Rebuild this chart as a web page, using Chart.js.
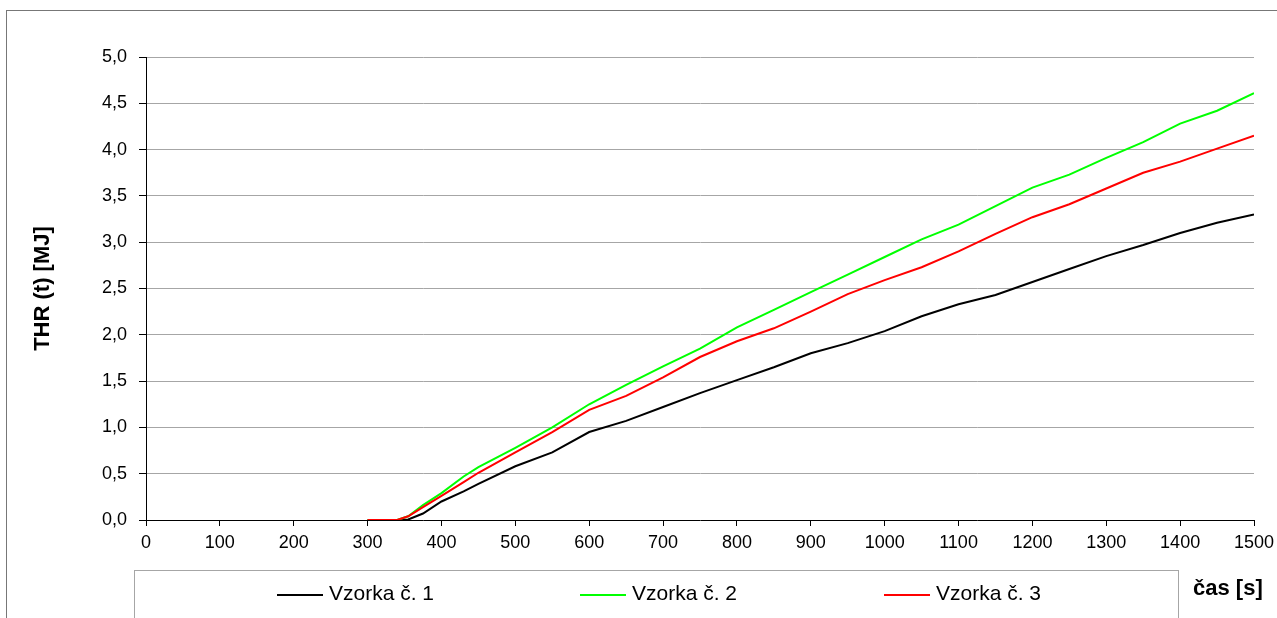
<!DOCTYPE html>
<html>
<head>
<meta charset="utf-8">
<script src="https://cdn.jsdelivr.net/npm/chart.js@4"></script>
<style>
  body { margin: 0; background: #fff; }
  #wrap { width: 1277px; height: 618px; position: relative; }
</style>
</head>
<body>
<div id="wrap"><canvas id="thrChart"></canvas></div>
<script>
// čas [s]
const times = [300, 340, 355, 375, 400, 430, 450, 500, 550, 600, 650, 700, 750, 800,
  850, 900, 950, 1000, 1050, 1100, 1150, 1200, 1250, 1300, 1350, 1400, 1450, 1500];

// THR (t) [MJ]
const vzorka1 = [0, 0, 0.005, 0.07, 0.20, 0.31, 0.39, 0.58, 0.73, 0.95, 1.07, 1.22, 1.37, 1.51,
  1.65, 1.80, 1.91, 2.04, 2.20, 2.33, 2.43, 2.57, 2.71, 2.85, 2.97, 3.10, 3.21, 3.30];
const vzorka2 = [0, 0, 0.04, 0.16, 0.29, 0.47, 0.57, 0.78, 1.00, 1.25, 1.46, 1.66, 1.85, 2.08,
  2.27, 2.46, 2.65, 2.84, 3.03, 3.19, 3.39, 3.59, 3.73, 3.91, 4.08, 4.28, 4.42, 4.61];
const vzorka3 = [0, 0, 0.04, 0.14, 0.26, 0.41, 0.51, 0.73, 0.95, 1.19, 1.34, 1.54, 1.76, 1.93,
  2.07, 2.25, 2.44, 2.59, 2.73, 2.90, 3.09, 3.27, 3.41, 3.58, 3.75, 3.87, 4.01, 4.15];

const seriesNames = ["Vzorka č. 1", "Vzorka č. 2", "Vzorka č. 3"];
const seriesColors = ["#000000", "#00ff00", "#ff0000"];
const xTitle = "čas [s]";
const yTitle = "THR (t) [MJ]";

const FONT = "'Liberation Sans', Arial, sans-serif";

const toPoints = (vals) => times.map((t, i) => ({ x: t, y: vals[i] }));

// frame, legend box and x title like the Excel original
const framePlugin = {
  id: "frame",
  afterDraw(chart) {
    const c = chart.ctx;
    c.save();
    c.lineWidth = 1;
    c.strokeStyle = "#777";
    c.strokeRect(6.5, 10.5, 1300, 700);

    c.strokeStyle = "#a6a6a6";
    c.strokeRect(134.5, 570.5, 1044, 100);

    const startX = [277, 580, 884];
    chart.data.datasets.forEach((ds, i) => {
      c.strokeStyle = ds.borderColor;
      c.lineWidth = 2;
      c.beginPath();
      c.moveTo(startX[i], 595);
      c.lineTo(startX[i] + 46, 595);
      c.stroke();
      c.fillStyle = "#000";
      c.font = "21px " + FONT;
      c.textBaseline = "middle";
      c.fillText(ds.label, startX[i] + 52, 594);
    });

    c.font = "bold 22px " + FONT;
    c.fillStyle = "#000";
    c.textBaseline = "middle";
    c.fillText(xTitle, 1193, 589);
    c.restore();
  }
};

const ctx = document.getElementById("thrChart").getContext("2d");
new Chart(ctx, {
  type: "line",
  data: {
    datasets: [
      { label: seriesNames[0], data: toPoints(vzorka1), borderColor: seriesColors[0], order: 2 },
      { label: seriesNames[1], data: toPoints(vzorka2), borderColor: seriesColors[1], order: 1 },
      { label: seriesNames[2], data: toPoints(vzorka3), borderColor: seriesColors[2], order: 0 },
    ],
  },
  options: {
    responsive: true,
    maintainAspectRatio: false,
    animation: false,
    layout: { padding: { left: 0, top: 57, right: 23, bottom: 58 } },
    elements: {
      line: { borderWidth: 2, tension: 0, fill: false },
      point: { radius: 0 },
    },
    plugins: {
      legend: { display: false },
      tooltip: { enabled: false },
    },
    scales: {
      x: {
        type: "linear",
        min: 0,
        max: 1500,
        afterFit: (s) => { s.height = 40; s.paddingRight = 0; s.paddingLeft = 0; },
        ticks: {
          stepSize: 100,
          color: "#000",
          padding: 6,
          font: { family: FONT, size: 18 },
          callback: (v) => String(v),
        },
        grid: { drawOnChartArea: false, tickLength: 6, tickColor: "#000" },
        border: { color: "#000", width: 1 },
      },
      y: {
        min: 0,
        max: 5,
        afterFit: (s) => { s.width = 146; },
        ticks: {
          stepSize: 0.5,
          color: "#000",
          padding: 12,
          font: { family: FONT, size: 18 },
          callback: (v) => v.toFixed(1).replace(".", ","),
        },
        grid: {
          color: (c) => (c.tick && c.tick.value === 0 ? "rgba(0,0,0,0)" : "#a6a6a6"),
          tickLength: 7,
          tickColor: "#000",
        },
        border: { color: "#000", width: 1 },
        title: {
          display: true,
          text: yTitle,
          color: "#000",
          padding: { top: 30, bottom: 0 },
          font: { family: FONT, size: 22, weight: "bold" },
        },
      },
    },
  },
  plugins: [framePlugin],
});
</script>
</body>
</html>
